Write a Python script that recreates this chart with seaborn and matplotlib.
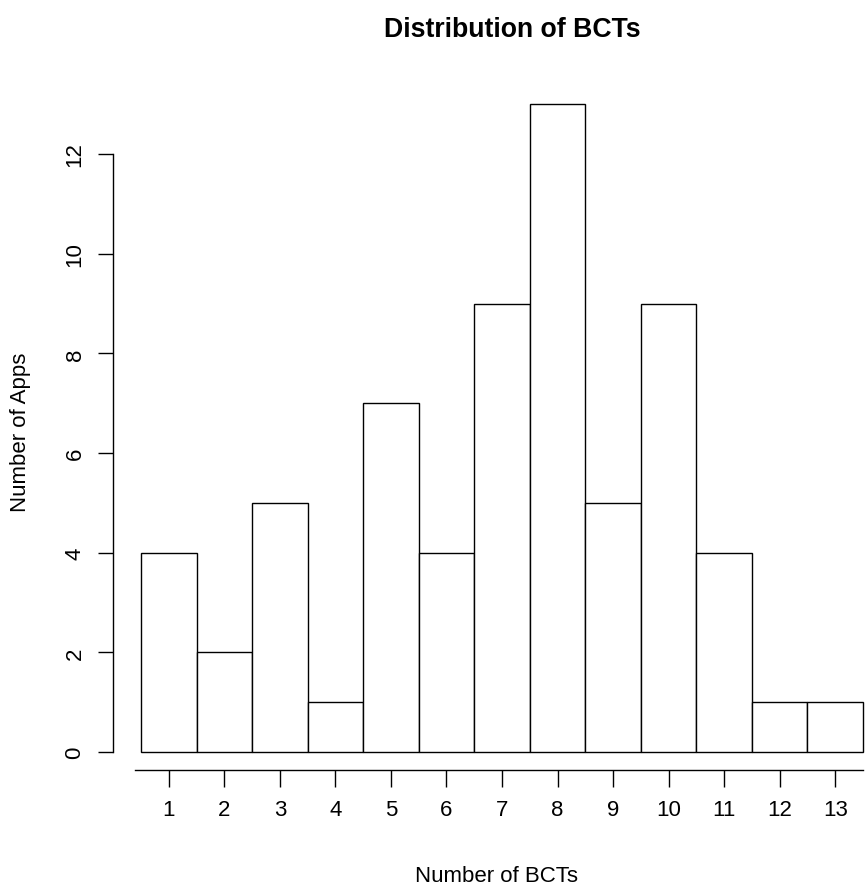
import matplotlib
matplotlib.use("Agg")
import matplotlib.pyplot as plt
import seaborn as sns
import pandas as pd

categories = ["1", "2", "3", "4", "5", "6", "7", "8", "9", "10", "11", "12", "13"]
counts = [4, 2, 5, 1, 7, 4, 9, 13, 5, 9, 4, 1, 1]
y_ticks = [0, 2, 4, 6, 8, 10, 12]

title = "Distribution of BCTs"
xlabel = "Number of BCTs"
ylabel = "Number of Apps"

sns.set_style("white")
plt.rcParams["font.family"] = ["Liberation Sans", "DejaVu Sans"]
plt.rcParams["text.color"] = "black"
plt.rcParams["xtick.color"] = "black"
plt.rcParams["ytick.color"] = "black"
plt.rcParams["axes.labelcolor"] = "black"

W, H = 865, 887
fig = plt.figure(figsize=(W / 100, H / 100), dpi=100)
fig.patch.set_facecolor("white")

left_px, right_px = 141, 863
base_px = 753
unit_px = 49.83
top_px = base_px - 13 * unit_px
ax = fig.add_axes([left_px / W, (H - base_px) / H,
                   (right_px - left_px) / W, (base_px - top_px) / H])
ax.set_facecolor("white")

df = pd.DataFrame({"cat": categories, "n": counts})
sns.barplot(data=df, x="cat", y="n", order=categories, color="white",
            saturation=1, edgecolor="black", linewidth=1.0, width=1.0, ax=ax)
for p in ax.patches:
    p.set_clip_on(False)

ax.set_xlim(-0.5, 12.5)
ax.set_ylim(0, 13)
ax.set_xlabel("")
ax.set_ylabel("")

for s in ["top", "right"]:
    ax.spines[s].set_visible(False)
ax.spines["left"].set_position(("outward", 28 * 0.72))
ax.spines["left"].set_bounds(0, 12)
ax.spines["bottom"].set_position(("outward", 17.7 * 0.72))
ax.spines["bottom"].set_bounds(-0.608, 12.5)
for s in ["left", "bottom"]:
    ax.spines[s].set_color("black")
    ax.spines[s].set_linewidth(1.0)

ax.set_xticks(range(len(categories)))
ax.set_xticklabels(categories)
ax.set_yticks(y_ticks)
ax.set_yticklabels([str(v) for v in y_ticks], rotation=90, va="center")
ax.tick_params(axis="x", direction="out", length=17 * 0.72, width=1.0,
               color="black", labelcolor="black", labelsize=16, pad=9, bottom=True)
ax.tick_params(axis="y", direction="out", length=15 * 0.72, width=1.0,
               color="black", labelcolor="black", labelsize=16, pad=9, left=True)

fig.text(512 / W, (H - 37) / H, title, ha="center", va="baseline",
         fontsize=19.2, fontweight="bold", color="black")
fig.text(496 / W, (H - 882) / H, xlabel, ha="center", va="baseline",
         fontsize=16, color="black")
fig.text(21 / W, (H - 432) / H, ylabel, ha="center", va="center",
         rotation=90, fontsize=16, color="black")

fig.savefig("out.png", dpi=100, facecolor="white")
